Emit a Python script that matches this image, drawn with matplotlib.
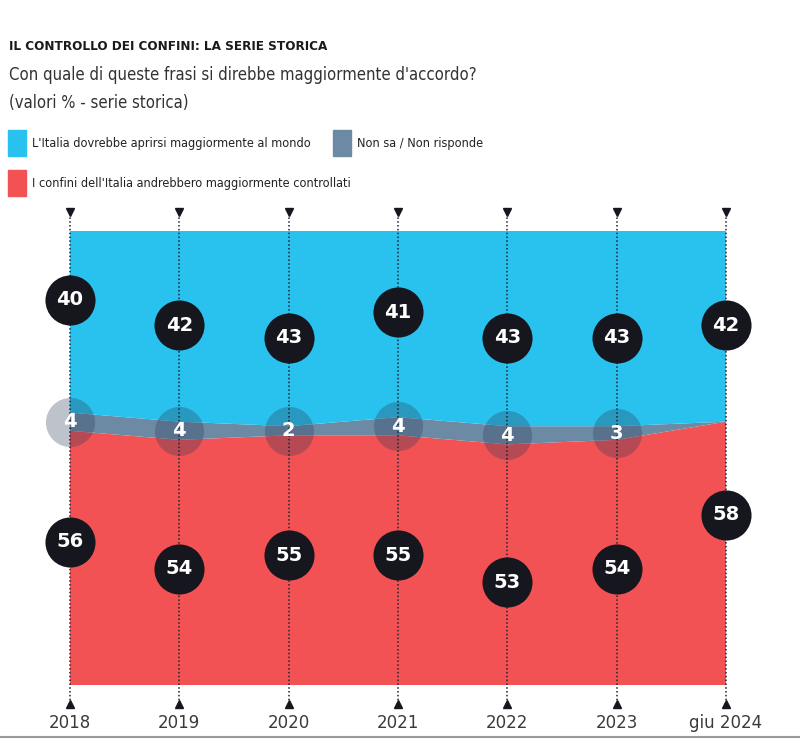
import matplotlib.pyplot as plt
from matplotlib.patches import Rectangle

years = ['2018', '2019', '2020', '2021', '2022', '2023', 'giu 2024']
aprirsi = [40, 42, 43, 41, 43, 43, 42]
non_sa = [4, 4, 2, 4, 4, 3, 0]
controllati = [56, 54, 55, 55, 53, 54, 58]

c_blue = '#29c1ee'
c_grey = '#6d8aa4'
c_red = '#f25254'
c_dark = '#16161e'

W, H = 800, 744
fig = plt.figure(figsize=(8, 7.44), dpi=100)

def fx(x):
    return x / W

def fy(y):
    return 1 - y / H

fam = 'DejaVu Sans'
st = 'condensed'

# titoli
fig.text(fx(9), fy(46), 'IL CONTROLLO DEI CONFINI: LA SERIE STORICA', family=fam, fontstretch=st,
         fontsize=9.6, fontweight='bold', color='#1a1a1a', va='center')
fig.text(fx(9), fy(75), "Con quale di queste frasi si direbbe maggiormente d'accordo?",
         family=fam, fontstretch=st, fontsize=12, color='#333333', va='center')
fig.text(fx(9), fy(103), '(valori % - serie storica)', family=fam, fontstretch=st, fontsize=12,
         color='#333333', va='center')

# legenda
leg = [(8, 143, c_blue, "L'Italia dovrebbe aprirsi maggiormente al mondo"),
       (333, 143, c_grey, 'Non sa / Non risponde'),
       (8, 183, c_red, "I confini dell'Italia andrebbero maggiormente controllati")]
for lx, ly, col, txt in leg:
    fig.patches.append(Rectangle((fx(lx), fy(ly + 13)), fx(18), 26 / H, color=col,
                                 transform=fig.transFigure, figure=fig))
    fig.text(fx(lx + 24), fy(ly), txt, family=fam, fontstretch=st, fontsize=9.1,
             color='#222222', va='center')

# area
ax = fig.add_axes([fx(70), fy(685), fx(656), 454 / H])
x = list(range(len(years)))
ax.stackplot(x, controllati, non_sa, aprirsi, colors=[c_red, c_grey, c_blue], lw=0)
ax.set_xlim(0, len(years) - 1)
ax.set_ylim(0, 100)
ax.set_axis_off()

# linee tratteggiate e triangoli
for i, lab in enumerate(years):
    ax.plot([i, i], [-4.2, 104.2], ls=(0, (1, 1.5)), lw=1.1, color='#1c2430',
            clip_on=False, zorder=3)
    ax.plot(i, 104.2, marker='v', ms=6, color=c_dark, clip_on=False, zorder=4)
    ax.plot(i, -4.2, marker='^', ms=6, color=c_dark, clip_on=False, zorder=4)
    ax.text(i, -8.4, lab, ha='center', va='center', fontsize=12, color='#3a3a3a',
            family=fam)

# cerchi "non sa"
for i, v in enumerate(non_sa):
    if v == 0:
        continue
    yc = controllati[i] + v / 2
    ax.scatter(i, yc, s=1250, color='#2a3a55', alpha=0.3, lw=0, clip_on=False, zorder=2)
    ax.text(i, yc, str(v), ha='center', va='center', color='white', fontsize=14,
            fontweight='bold', zorder=6)

# etichette valori (scale secondarie)
ax_b = ax.twinx()
ax_b.set_ylim(70.3, 34.6)
ax_b.set_axis_off()
ax_r = ax.twinx()
ax_r.set_ylim(45.4, 79.0)
ax_r.set_axis_off()
for axx, vals in [(ax_b, aprirsi), (ax_r, controllati)]:
    axx.scatter(x, vals, s=1300, color=c_dark, lw=0, clip_on=False, zorder=5)
    for i, v in enumerate(vals):
        axx.text(i, v, str(v), ha='center', va='center', color='white', fontsize=14,
                 fontweight='bold', zorder=6)

# riga in basso
fig.add_artist(plt.Line2D([0, 1], [fy(737), fy(737)], color='#999999', lw=1.5))

fig.savefig('out.png', dpi=100)
